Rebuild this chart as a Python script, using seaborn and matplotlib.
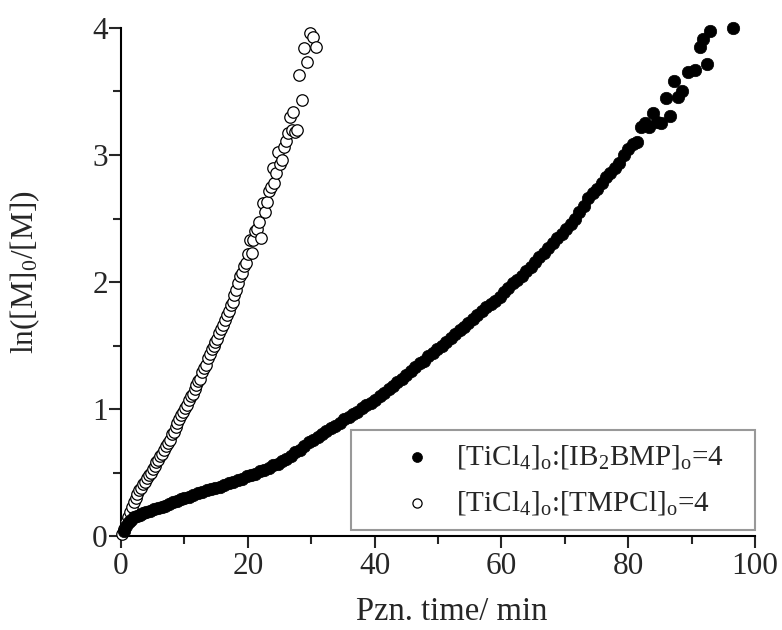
import matplotlib
matplotlib.use("Agg")
import matplotlib.pyplot as plt
import seaborn as sns
import pandas as pd

# ---- data ----
ib2bmp_time = [0.4, 0.8, 1.2, 1.6, 2.0, 2.5, 3.0, 3.5, 4.0, 4.6, 5.2, 5.8, 6.4, 7.0, 7.6, 8.2, 8.8, 9.4, 10.0,
               10.7, 11.4, 12.1, 12.8, 13.5, 14.2, 14.9, 15.6, 16.3, 17.0, 17.7, 18.4, 19.1, 19.8,
               20.5, 21.2, 21.9, 22.6, 23.3, 24.0, 24.7, 25.4, 26.1, 26.8, 27.5, 28.2, 28.9, 29.6,
               30.3, 31.0, 31.7, 32.4, 33.1, 33.8, 34.5, 35.2, 35.9, 36.6, 37.3, 38.0, 38.7, 39.4,
               40.1, 40.8, 41.5, 42.2, 42.9, 43.6, 44.3, 45.0, 45.7, 46.4, 47.1, 47.8, 48.5, 49.2, 49.9,
               50.6, 51.3, 52.0, 52.7, 53.4, 54.1, 54.8, 55.5, 56.2, 56.9, 57.6, 58.3, 59.0, 59.7,
               60.4, 61.1, 61.8, 62.5, 63.2, 63.9, 64.6, 65.3, 66.0, 66.7, 67.4, 68.1, 68.8, 69.5,
               70.2, 70.9, 71.6, 72.3, 73.0, 73.7, 74.4, 75.1, 75.8, 76.5, 77.2, 77.9, 78.6, 79.3, 80.0,
               80.7, 81.4, 82.0, 82.6, 83.2, 83.9, 84.5, 85.2, 85.9, 86.6, 87.3, 87.9, 88.5, 89.4, 90.5,
               91.3, 91.8, 92.4, 92.9, 96.5]
ib2bmp_ln = [0.04, 0.08, 0.11, 0.13, 0.15, 0.16, 0.17, 0.18, 0.19, 0.20, 0.21, 0.22, 0.23, 0.24, 0.25, 0.27, 0.28, 0.29, 0.30,
             0.31, 0.32, 0.34, 0.35, 0.36, 0.37, 0.38, 0.39, 0.40, 0.42, 0.43, 0.44, 0.45, 0.47,
             0.48, 0.49, 0.51, 0.52, 0.54, 0.56, 0.57, 0.59, 0.61, 0.63, 0.66, 0.68, 0.71, 0.74,
             0.76, 0.78, 0.80, 0.83, 0.85, 0.87, 0.89, 0.92, 0.94, 0.96, 0.98, 1.01, 1.03, 1.05,
             1.07, 1.10, 1.13, 1.16, 1.18, 1.21, 1.24, 1.27, 1.30, 1.33, 1.36, 1.38, 1.42, 1.44, 1.47,
             1.50, 1.53, 1.56, 1.59, 1.62, 1.65, 1.68, 1.71, 1.74, 1.77, 1.80, 1.83, 1.85, 1.88,
             1.92, 1.95, 1.99, 2.02, 2.05, 2.09, 2.12, 2.16, 2.20, 2.23, 2.27, 2.31, 2.35, 2.38,
             2.42, 2.46, 2.50, 2.55, 2.60, 2.66, 2.70, 2.73, 2.78, 2.83, 2.86, 2.90, 2.94, 3.00, 3.05,
             3.09, 3.10, 3.22, 3.25, 3.22, 3.33, 3.26, 3.25, 3.45, 3.31, 3.58, 3.46, 3.50, 3.65, 3.67,
             3.85, 3.91, 3.72, 3.98, 4.00]

tmpcl_time = [0.2, 0.5, 0.8, 1.1, 1.4, 1.7, 2.0, 2.3, 2.6, 2.9, 3.2, 3.5, 3.8, 4.1, 4.4, 4.7, 5.0, 5.3, 5.6, 5.9,
              6.2, 6.5, 6.8, 7.1, 7.4, 7.7, 8.0, 8.3, 8.6, 8.9, 9.2, 9.5, 9.8, 10.1, 10.4, 10.7, 11.0, 11.3, 11.6, 11.9,
              12.2, 12.5, 12.8, 13.1, 13.4, 13.7, 14.0, 14.3, 14.6, 14.9, 15.2, 15.5, 15.8, 16.1, 16.4, 16.7, 17.0, 17.3,
              17.6, 17.9, 18.2, 18.5, 18.8, 19.1, 19.4, 19.7, 20.0, 20.3, 20.6, 20.9, 21.2, 21.5, 21.8, 22.1, 22.4, 22.7,
              23.0, 23.3, 23.6, 23.9, 24.2, 24.5, 24.8, 25.1, 25.4, 25.7, 26.0, 26.3, 26.6, 26.9, 27.2, 27.5, 27.7,
              28.0, 28.5, 28.8, 29.3, 29.8, 30.3, 30.8]
tmpcl_ln = [0.02, 0.06, 0.11, 0.15, 0.19, 0.23, 0.27, 0.30, 0.33, 0.36, 0.38, 0.41, 0.43, 0.46, 0.48, 0.50, 0.53, 0.55, 0.58, 0.60,
            0.63, 0.65, 0.68, 0.71, 0.73, 0.76, 0.80, 0.82, 0.86, 0.89, 0.92, 0.95, 0.98, 1.01, 1.03, 1.07, 1.10, 1.12, 1.16, 1.19,
            1.22, 1.24, 1.29, 1.32, 1.35, 1.40, 1.43, 1.47, 1.50, 1.53, 1.55, 1.60, 1.63, 1.66, 1.70, 1.74, 1.77, 1.82,
            1.84, 1.90, 1.94, 1.99, 2.05, 2.07, 2.13, 2.15, 2.22, 2.33, 2.23, 2.33, 2.40, 2.42, 2.47, 2.35, 2.62, 2.55,
            2.63, 2.72, 2.75, 2.90, 2.78, 2.86, 3.02, 2.93, 2.96, 3.06, 3.11, 3.17, 3.30, 3.20, 3.34, 3.18, 3.20,
            3.63, 3.43, 3.84, 3.73, 3.96, 3.93, 3.85]

label_ib = r"[TiCl$_\mathrm{4}$]$_\mathrm{o}$:[IB$_\mathrm{2}$BMP]$_\mathrm{o}$=4"
label_tm = r"[TiCl$_\mathrm{4}$]$_\mathrm{o}$:[TMPCl]$_\mathrm{o}$=4"
x_label = "Pzn. time/ min"
y_label = r"ln([M]$_\mathrm{0}$/[M])"

df_ib = pd.DataFrame({"t": ib2bmp_time, "y": ib2bmp_ln})
df_tm = pd.DataFrame({"t": tmpcl_time, "y": tmpcl_ln})

sns.set_style("ticks")
plt.rcParams["font.family"] = ["Liberation Serif", "DejaVu Serif"]
plt.rcParams["mathtext.fontset"] = "custom"
plt.rcParams["mathtext.rm"] = "Liberation Serif"
plt.rcParams["mathtext.it"] = "Liberation Serif:italic"

fig = plt.figure(figsize=(7.82, 6.30), dpi=100)
ax = fig.add_axes([0.1547, 0.149, 0.8108, 0.8066])

sns.scatterplot(data=df_tm, x="t", y="y", ax=ax, marker="o", s=68, facecolor="white",
                edgecolor="black", linewidth=0.9, label=label_tm, clip_on=False, zorder=3)
sns.scatterplot(data=df_ib, x="t", y="y", ax=ax, marker="o", s=80, color="black",
                edgecolor="black", linewidth=0.5, label=label_ib, clip_on=False, zorder=4)

ax.set_xlim(0, 100)
ax.set_ylim(0, 4)
ax.set_xticks([0, 20, 40, 60, 80, 100])
ax.set_xticks([10, 30, 50, 70, 90], minor=True)
ax.set_yticks([0, 1, 2, 3, 4])
ax.set_yticks([0.5, 1.5, 2.5, 3.5], minor=True)
ax.tick_params(axis="both", which="major", direction="out", length=8.5, width=1.5, labelsize=22.5)
ax.tick_params(axis="x", which="major", pad=3)
ax.tick_params(axis="y", which="major", pad=1)
ax.tick_params(axis="both", which="minor", direction="out", length=5.5, width=1.5)
for side in ["left", "bottom"]:
    ax.spines[side].set_linewidth(1.5)
    ax.spines[side].set_color("black")
sns.despine(ax=ax)

ax.set_xlabel(x_label, fontsize=23.5)
ax.set_ylabel(y_label, fontsize=22.5)
ax.xaxis.set_label_coords(0.522, -0.118)
ax.yaxis.set_label_coords(-0.125, 0.52)

handles, labels = ax.get_legend_handles_labels()
order = [labels.index(label_ib), labels.index(label_tm)]
leg = ax.legend([handles[i] for i in order], [labels[i] for i in order],
                loc="lower left", bbox_to_anchor=(0.3628, 0.0118, 0.637, 0.2), mode="expand",
                borderaxespad=0, fontsize=21, frameon=True, fancybox=False, markerscale=0.8,
                handletextpad=-0.45, borderpad=0.45, labelspacing=0.62, handlelength=3.6)
leg.get_frame().set_edgecolor("#808080")
leg.get_frame().set_linewidth(1.5)

fig.savefig("out.png", dpi=100)
